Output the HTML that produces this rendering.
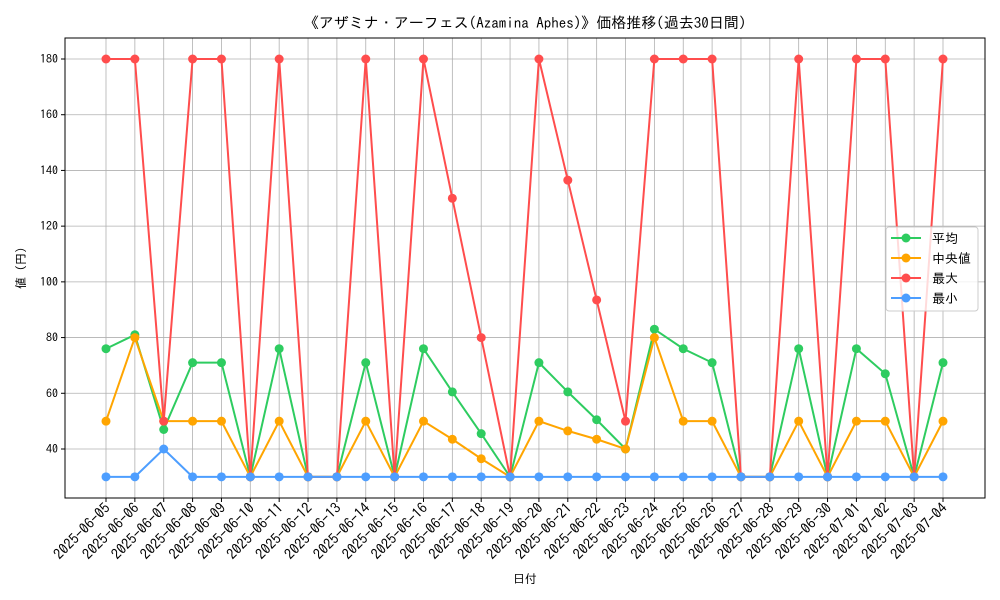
<!DOCTYPE html>
<html><head><meta charset="utf-8"><style>
body{margin:0;background:#fff}
svg{display:block;font-family:"IPAGothic","Liberation Sans","Noto Sans CJK JP",sans-serif}
</style></head><body>
<svg id="c" width="1000" height="600"></svg>
<script>
const dates=["2025-06-05","2025-06-06","2025-06-07","2025-06-08","2025-06-09","2025-06-10","2025-06-11","2025-06-12","2025-06-13","2025-06-14","2025-06-15","2025-06-16","2025-06-17","2025-06-18","2025-06-19","2025-06-20","2025-06-21","2025-06-22","2025-06-23","2025-06-24","2025-06-25","2025-06-26","2025-06-27","2025-06-28","2025-06-29","2025-06-30","2025-07-01","2025-07-02","2025-07-03","2025-07-04"];
const avgVals=[76,81,47,71,71,30,76,30,30,71,30,76,60.5,45.5,30,71,60.5,50.5,40,83,76,71,30,30,76,30,76,67,30,71];
const medVals=[50,80,50,50,50,30,50,30,30,50,30,50,43.5,36.5,30,50,46.5,43.5,40,80,50,50,30,30,50,30,50,50,30,50];
const maxVals=[180,180,50,180,180,30,180,30,30,180,30,180,130,80,30,180,136.5,93.5,50,180,180,180,30,30,180,30,180,180,30,180];
const minVals=[30,30,40,30,30,30,30,30,30,30,30,30,30,30,30,30,30,30,30,30,30,30,30,30,30,30,30,30,30,30];
const yTicks=[40,60,80,100,120,140,160,180];
const seriesNames=["平均","中央値","最大","最小"];
const colors=["#2ecc60","#ffa500","#ff4d4d","#4d9eff"];

const svg=document.getElementById('c');
const NS="http://www.w3.org/2000/svg";
const L=65,R=985,T=38,B=498;
const x=i=>106+i*(943-106)/(dates.length-1);
const y=v=>449-(v-40)*(449-59)/140;
function mk(tag,attrs,parent){const e=document.createElementNS(NS,tag);for(const k in attrs)e.setAttribute(k,attrs[k]);(parent||svg).appendChild(e);return e;}

const grid=mk('g',{});


dates.forEach((d,i)=>{
  const l=mk('line',{x1:x(i),x2:x(i),y1:T,y2:B,stroke:'#b0b0b0','stroke-width':0.8},grid);
  
  
  const t=mk('line',{x1:x(i),x2:x(i),y1:B,y2:B+4,stroke:'#000'});
  
  
  const tx=mk('text',{x:x(i)+5,y:B+11,'font-size':14.5,'text-anchor':'end',transform:`rotate(-45 ${x(i)+5} ${B+11})`});
  tx.textContent=d;
  
  
});
yTicks.forEach(v=>{
  const l=mk('line',{x1:L,x2:R,y1:y(v),y2:y(v),stroke:'#b0b0b0','stroke-width':0.8},grid);
  
  
  const t=mk('line',{x1:L-4,x2:L,y1:y(v),y2:y(v),stroke:'#000'});
  
  
  const tx=mk('text',{x:L-7,y:y(v)+4,'font-size':12,'text-anchor':'end'});
  tx.textContent=v;
  
  
});

const all=[avgVals,medVals,maxVals,minVals];
all.forEach((vals,s)=>{
  const g=mk('g',{});
  
  
  const p=mk('polyline',{points:vals.map((v,i)=>x(i)+','+y(v)).join(' '),fill:'none',stroke:colors[s],'stroke-width':2},g);
  
  
  vals.forEach((v,i)=>{
    const c=mk('circle',{cx:x(i),cy:y(v),r:4.5,fill:colors[s]},g);
    
    
  });
});

const frame=mk('rect',{x:L,y:T,width:R-L,height:B-T,fill:'none',stroke:'#000','stroke-width':1});



const title=mk('text',{x:525,y:28,'font-size':15,'text-anchor':'middle'});
title.textContent='《アザミナ・アーフェス(Azamina Aphes)》価格推移(過去30日間)';


const xt=mk('text',{x:525,y:583,'font-size':12,'text-anchor':'middle'});
xt.textContent='日付';


const yt=mk('text',{x:25,y:268,'font-size':12,'text-anchor':'middle',transform:'rotate(-90 25 268)'});
yt.textContent='値 (円)';



const lg=mk('g',{});


mk('rect',{x:886,y:227,width:92,height:84,rx:3,fill:'rgba(255,255,255,0.8)',stroke:'#ccc'},lg);
seriesNames.forEach((n,s)=>{
  const yy=238+s*20;
  const e=mk('g',{},lg);
  
  
  mk('line',{x1:891,x2:921,y1:yy,y2:yy,stroke:colors[s],'stroke-width':2},e);
  mk('circle',{cx:906,cy:yy,r:4.5,fill:colors[s]},e);
  const t=mk('text',{x:932,y:yy+5,'font-size':13},e);
  t.textContent=n;
});
</script>
</body></html>
